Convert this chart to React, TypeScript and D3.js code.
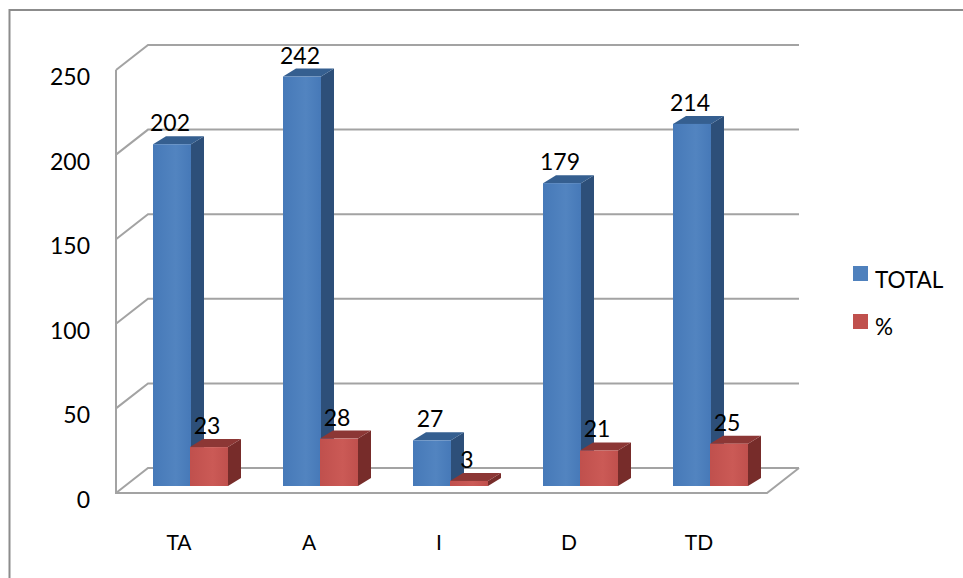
import React from "react";
import * as d3 from "d3";

const categories = ["TA", "A", "I", "D", "TD"];
const totalValues = [202, 242, 27, 179, 214];
const percentValues = [23, 28, 3, 21, 25];
const yTicks = [0, 50, 100, 150, 200, 250];
const legendNames = ["TOTAL", "%"];

const WIDTH = 963;
const HEIGHT = 578;
const FONT = "Lato, 'Open Sans', sans-serif";
const GRID = "#a3a3a3";
const FRAME = "#8c8c8c";

// Wall depth of the 3D box, and the inset and depth of the bars standing on its floor.
const WALL_DX = 32;
const WALL_DY = -25;
const BAR_INSET_Y = -7;
const BAR_DX = 13;
const BAR_DY = -8;
const BAR_W = 38;

const y = d3.scaleLinear().domain([0, 250]).range([493, 70]);
const x = d3.scalePoint<string>().domain(categories).range([179, 699]);

const LEFT = 116;
const FRONT_RIGHT = 767;
const pathOf = d3.line();

const seriesStyles = [
  { id: "blue", front: "#4679b8", light: "#5284c0", side: "#2d4f79", top: "#355f90", legend: "#4f81bd", offset: -26 },
  { id: "red", front: "#c0504d", light: "#cb5a56", side: "#772c2a", top: "#8c3735", legend: "#c0504d", offset: 11 },
];

function Bar({ cx, value, label, s }: { cx: number; value: number; label: number; s: (typeof seriesStyles)[number] }) {
  const x0 = cx + s.offset;
  const x1 = x0 + BAR_W;
  const base = y(0) + BAR_INSET_Y;
  const top = y(value) + BAR_INSET_Y;
  const sidePts: [number, number][] = [[x1, base], [x1 + BAR_DX, base + BAR_DY], [x1 + BAR_DX, top + BAR_DY], [x1, top]];
  const topPts: [number, number][] = [[x0, top], [x0 + BAR_DX, top + BAR_DY], [x1 + BAR_DX, top + BAR_DY], [x1, top]];
  return (
    <g>
      <path d={pathOf(sidePts)! + "Z"} fill={s.side} />
      <path d={pathOf(topPts)! + "Z"} fill={s.top} />
      <rect x={x0} y={top} width={BAR_W} height={base - top} fill={`url(#face-${s.id})`} />
      <text x={x0 + BAR_W / 2 - 2} y={top - 13} textAnchor="middle" fontSize={23} fontFamily={FONT} fill="#000">
        {label}
      </text>
    </g>
  );
}

export default function App() {
  return (
    <svg
      width={WIDTH}
      height={HEIGHT}
      viewBox={`0 0 ${WIDTH} ${HEIGHT}`}
      style={{ position: "absolute", left: 0, top: 0, background: "#fff" }}
    >
      <defs>
        {seriesStyles.map((s) => (
          <linearGradient key={s.id} id={`face-${s.id}`} x1="0" x2="1" y1="0" y2="0">
            <stop offset="0" stopColor={s.front} />
            <stop offset="0.6" stopColor={s.light} />
            <stop offset="1" stopColor={s.front} />
          </linearGradient>
        ))}
      </defs>

      {/* outer frame: only the left and top edges are drawn */}
      <path d="M9.5 578V10H963" fill="none" stroke={FRAME} strokeWidth={2} />

      {/* side wall and back wall gridlines */}
      {yTicks.map((t) => (
        <path
          key={t}
          d={pathOf([
            [LEFT, y(t)],
            [LEFT + WALL_DX, y(t) + WALL_DY],
            [799, y(t) + WALL_DY],
          ])!}
          fill="none"
          stroke={GRID}
          strokeWidth={2}
        />
      ))}
      <path d={pathOf([[LEFT, y(250)], [LEFT, y(0)], [FRONT_RIGHT, y(0)], [799, y(0) + WALL_DY]])!} fill="none" stroke={GRID} strokeWidth={2} />

      {categories.map((c, i) => (
        <g key={c}>
          <Bar cx={x(c)!} value={totalValues[i]} label={totalValues[i]} s={seriesStyles[0]} />
          <Bar cx={x(c)!} value={percentValues[i]} label={percentValues[i]} s={seriesStyles[1]} />
          <text x={x(c)!} y={550} textAnchor="middle" fontSize={21} fontFamily={FONT} fill="#000">
            {c}
          </text>
        </g>
      ))}

      {yTicks.map((t) => (
        <text key={t} x={90} y={y(t) + 15} textAnchor="end" fontSize={23} fontFamily={FONT} fill="#000">
          {t}
        </text>
      ))}

      {legendNames.map((name, i) => (
        <g key={name}>
          <rect x={853} y={266 + i * 48} width={15} height={15} fill={seriesStyles[i].legend} />
          <text x={875} y={288 + i * 47} fontSize={22.5} fontFamily={FONT} fill="#000">
            {name}
          </text>
        </g>
      ))}
    </svg>
  );
}
